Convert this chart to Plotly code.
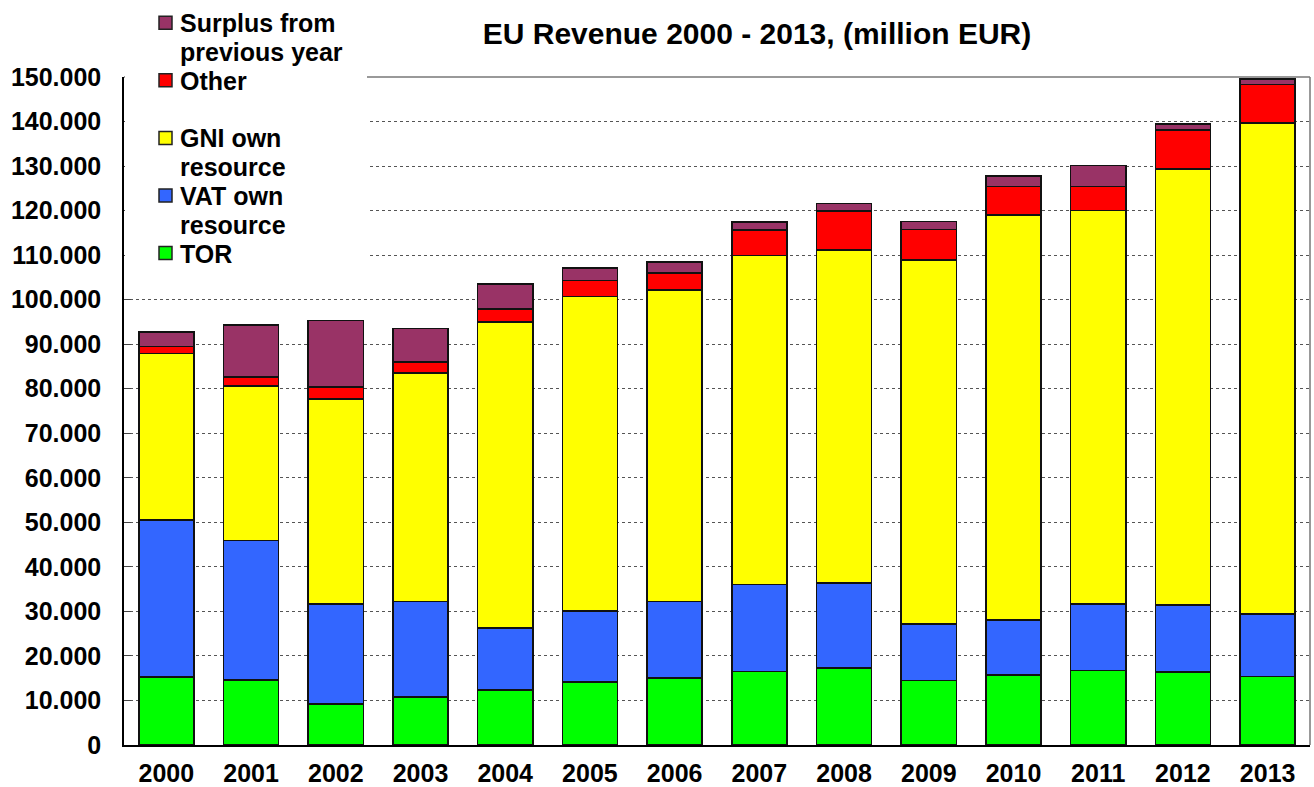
import plotly.graph_objects as go

years = ["2000", "2001", "2002", "2003", "2004", "2005", "2006",
         "2007", "2008", "2009", "2010", "2011", "2012", "2013"]
tor = [15300, 14600, 9200, 10800, 12300, 14100, 15000, 16550, 17250, 14450, 15700, 16750, 16400, 15400]
vat = [35200, 31300, 22450, 21400, 14000, 15950, 17200, 19500, 19100, 12750, 12350, 14850, 15000, 13950]
gni = [37450, 34700, 46000, 51400, 68700, 70700, 70000, 73850, 74750, 81650, 90950, 88400, 97950, 110300]
other = [1550, 2050, 2750, 2400, 2950, 3550, 3750, 5700, 8850, 6950, 6450, 5450, 8750, 8700]
surplus = [3300, 11600, 14950, 7500, 5550, 2800, 2450, 1900, 1650, 1750, 2350, 4650, 1350, 1150]

series_names = ["TOR", "VAT own resource", "GNI own resource", "Other", "Surplus from previous year"]
series_values = [tor, vat, gni, other, surplus]
series_colors = ["#00FF00", "#3366FF", "#FFFF00", "#FF0000", "#993366"]
# legend text, split in lines as in the original legend (top to bottom)
legend_lines = {
    "Surplus from previous year": ["Surplus from", "previous year"],
    "Other": ["Other"],
    "GNI own resource": ["GNI own", "resource"],
    "VAT own resource": ["VAT own", "resource"],
    "TOR": ["TOR"],
}

FONT = "Arial, Liberation Sans, sans-serif"
W, H = 1314, 787
L, R, T, B = 124, 4, 77, 42
PW, PH = W - L - R, H - T - B


def px_x(x):
    return (x - L) / PW


def px_y(y):
    return (H - B - y) / PH


fig = go.Figure()
for name, vals, color in zip(series_names, series_values, series_colors):
    fig.add_trace(go.Bar(
        x=years, y=vals, name=name,
        marker=dict(color=color, line=dict(color="#111111", width=1.6)),
        showlegend=False,
    ))

fig.update_layout(
    width=W, height=H,
    barmode="stack", bargap=0.35,
    separators=",.",
    plot_bgcolor="white", paper_bgcolor="white",
    margin=dict(l=L, r=R, t=T, b=B),
    font=dict(family=FONT, size=25, color="black", weight="bold"),
    title=dict(text="EU Revenue 2000 - 2013, (million EUR)",
               x=px_x(757), xanchor="center", xref="paper",
               y=1 - 33 / H, yanchor="middle", yref="container",
               font=dict(family=FONT, size=30, weight="bold", color="black")),
    showlegend=False,
)
fig.update_yaxes(range=[0, 150000], dtick=10000, tickformat=",.0f",
                 showgrid=True, gridcolor="#555555", griddash="dot", gridwidth=1,
                 showline=True, linecolor="black", linewidth=1.5,
                 ticks="inside", ticklen=7, tickcolor="#444444",
                 ticklabelstandoff=16, zeroline=False, automargin=False,
                 tickfont=dict(family=FONT, size=25, weight="bold"))
fig.update_xaxes(showline=True, linecolor="black", linewidth=1.5,
                 ticks="", ticklabelstandoff=5, automargin=False,
                 tickfont=dict(family=FONT, size=25, weight="bold"))
# Plot frame on top and right
fig.add_shape(type="line", xref="paper", yref="paper", x0=0, x1=1, y0=1, y1=1,
              line=dict(color="#777777", width=1.5), layer="below")
fig.add_shape(type="line", xref="paper", yref="paper", x0=1, x1=1, y0=0, y1=1,
              line=dict(color="#777777", width=1.5), layer="below")

# Legend (drawn to match the original's compact line spacing)
legend_order = list(reversed(series_names))
legend_colors = dict(zip(series_names, series_colors))
# white legend box covering the gridlines
fig.add_shape(type="rect", xref="paper", yref="paper",
              x0=px_x(125), x1=px_x(367), y0=px_y(263), y1=px_y(0),
              fillcolor="white", line=dict(width=0), layer="above")
line_h = 28.8
y = 22.7
for i, name in enumerate(legend_order):
    if name == "GNI own resource":
        y += line_h  # empty row, as in the original legend
    lines = legend_lines[name]
    fig.add_shape(type="rect", xref="paper", yref="paper",
                  x0=px_x(159), x1=px_x(172), y0=px_y(y + 6.5), y1=px_y(y - 6.5),
                  fillcolor=legend_colors[name], line=dict(color="#222222", width=1.5),
                  layer="above")
    for ln in lines:
        fig.add_annotation(xref="paper", yref="paper", x=px_x(178), y=px_y(y + 0.5),
                           xanchor="left", yanchor="middle", showarrow=False,
                           text=ln, font=dict(family=FONT, size=25, weight="bold"))
        y += line_h

fig.write_html("out.html")
